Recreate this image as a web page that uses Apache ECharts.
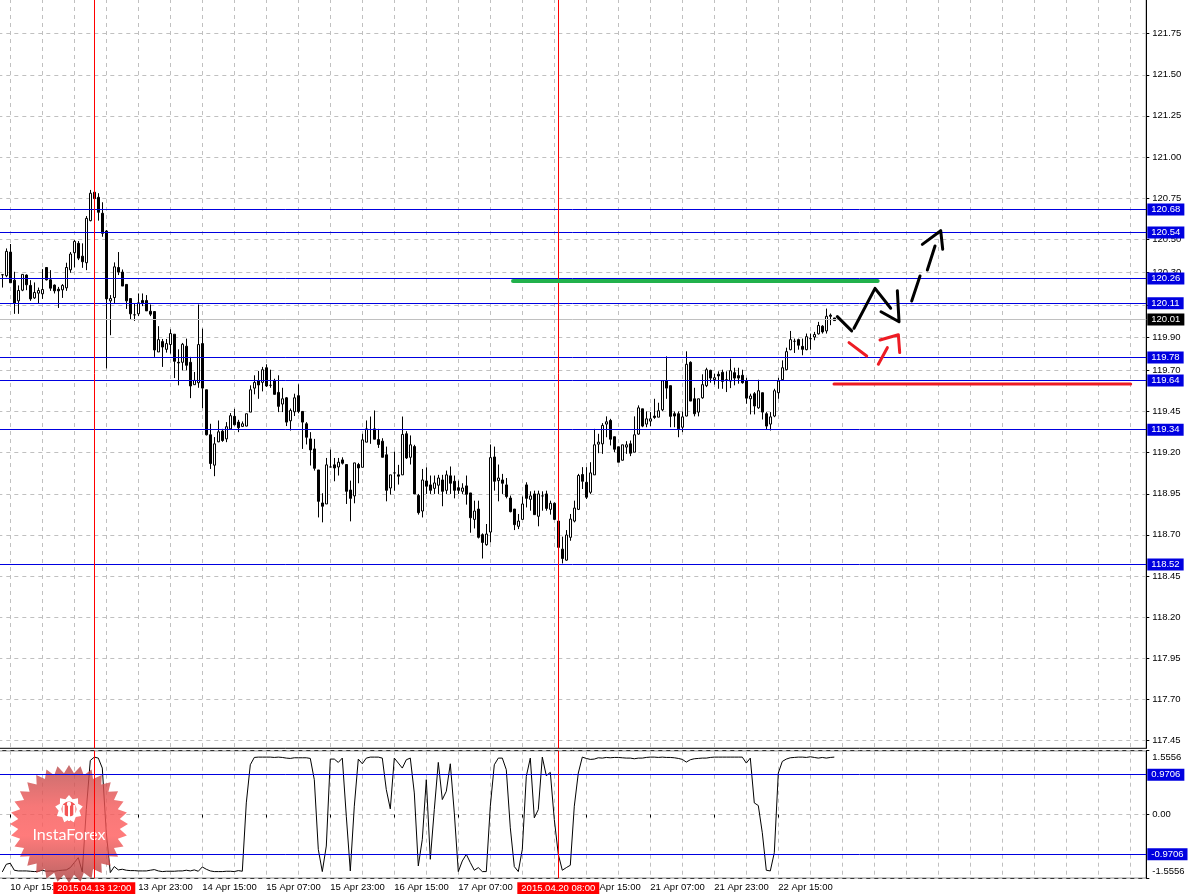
<!DOCTYPE html>
<html>
<head>
<meta charset="utf-8">
<title>USD/JPY H1</title>
<script src="https://cdn.jsdelivr.net/npm/echarts@6/dist/echarts.min.js"></script>
<style>
  html, body { margin: 0; padding: 0; background: #fff; }
  #main { width: 1188px; height: 894px; }
</style>
</head>
<body>
<div id="main"></div>
<script>
// hourly candles
const opens = [
120.283,120.277,120.421,120.250,120.124,120.189,120.281,120.218,120.142,120.171,
120.167,120.327,120.252,120.220,120.195,120.191,120.203,120.313,120.417,120.474,
120.396,120.356,120.612,120.785,120.754,120.657,120.549,120.124,120.144,120.327,
120.299,120.224,120.138,120.039,120.045,120.126,120.126,120.061,120.059,119.813,
119.876,119.829,119.858,119.921,119.750,119.750,119.848,119.750,119.614,119.626,
119.864,119.583,119.309,119.124,119.266,119.331,119.284,119.345,119.421,119.386,
119.360,119.362,119.447,119.593,119.638,119.628,119.717,119.610,119.636,119.567,
119.496,119.534,119.394,119.449,119.547,119.451,119.376,119.284,119.223,119.095,
118.894,118.888,119.113,119.126,119.113,119.156,119.128,118.973,118.937,119.128,
119.111,119.264,119.341,119.345,119.280,119.270,119.187,118.985,119.077,119.065,
119.065,119.315,119.172,119.237,118.939,118.845,119.028,119.004,118.983,119.002,
119.034,118.971,119.059,119.026,118.987,118.965,118.998,118.955,118.794,118.857,
118.701,118.640,118.717,119.174,119.030,119.034,119.004,118.924,118.857,118.752,
118.794,119.004,118.916,118.949,118.813,118.937,118.949,118.855,118.892,118.784,
118.613,118.546,118.685,118.784,118.855,119.067,119.020,118.959,119.065,119.252,
119.254,119.374,119.396,119.297,119.236,119.154,119.234,119.254,119.203,119.313,
119.467,119.374,119.392,119.423,119.416,119.461,119.638,119.608,119.437,119.437,
119.355,119.423,119.750,119.528,119.447,119.534,119.608,119.701,119.644,119.677,
119.689,119.644,119.636,119.687,119.669,119.671,119.636,119.528,119.559,119.473,
119.565,119.437,119.374,119.423,119.565,119.644,119.705,119.827,119.878,119.888,
119.847,119.827,119.894,119.904,119.923,119.970,119.941,120.037,120.020];
const closes = [
120.283,120.425,120.234,120.110,120.187,120.285,120.222,120.136,120.175,120.187,
120.193,120.252,120.201,120.185,120.185,120.218,120.327,120.409,120.486,120.384,
120.362,120.626,120.779,120.746,120.663,120.535,120.136,120.138,120.331,120.299,
120.214,120.124,120.045,120.039,120.112,120.112,120.063,120.043,119.825,119.888,
119.843,119.864,119.925,119.756,119.746,119.860,119.732,119.606,119.640,119.858,
119.593,119.309,119.134,119.254,119.327,119.274,119.358,119.425,119.370,119.352,
119.376,119.437,119.583,119.628,119.612,119.705,119.606,119.610,119.555,119.482,
119.528,119.386,119.457,119.534,119.451,119.386,119.294,119.217,119.105,118.904,
118.874,119.126,119.113,119.107,119.142,119.136,118.965,118.922,119.138,119.107,
119.278,119.345,119.341,119.282,119.250,119.172,118.971,119.065,119.077,119.057,
119.311,119.168,119.248,118.949,118.835,119.034,118.996,118.971,119.016,119.046,
118.965,119.065,119.014,118.971,118.971,118.985,118.947,118.804,118.845,118.685,
118.654,118.705,119.170,119.026,119.046,119.014,118.933,118.841,118.762,118.784,
118.888,118.922,118.937,118.823,118.949,118.937,118.861,118.892,118.794,118.624,
118.556,118.699,118.796,118.863,119.061,119.026,118.929,119.077,119.248,119.264,
119.366,119.388,119.282,119.221,119.142,119.248,119.248,119.197,119.309,119.473,
119.362,119.406,119.406,119.414,119.455,119.638,119.593,119.421,119.423,119.345,
119.418,119.738,119.514,119.437,119.528,119.614,119.705,119.654,119.656,119.667,
119.634,119.644,119.699,119.654,119.654,119.626,119.532,119.545,119.484,119.577,
119.447,119.362,119.418,119.577,119.636,119.717,119.815,119.888,119.878,119.854,
119.829,119.906,119.894,119.919,119.974,119.935,120.030,120.030,120.004];
const lows = [
120.205,120.268,120.234,120.045,120.045,120.183,120.189,120.124,120.136,120.110,
120.136,120.248,120.185,120.169,120.081,120.142,120.185,120.295,120.327,120.372,
120.325,120.311,120.608,120.667,120.612,120.514,119.713,119.915,120.110,120.281,
120.214,120.075,120.012,120.002,120.031,120.092,120.063,120.031,119.783,119.813,
119.722,119.809,119.803,119.654,119.610,119.701,119.701,119.532,119.614,119.595,
119.471,119.305,119.101,119.057,119.264,119.266,119.264,119.339,119.366,119.325,
119.356,119.360,119.447,119.555,119.528,119.573,119.600,119.595,119.555,119.447,
119.447,119.362,119.335,119.423,119.440,119.223,119.250,119.122,119.091,118.806,
118.776,118.888,119.111,119.026,119.061,119.128,118.888,118.782,118.892,119.014,
119.111,119.264,119.254,119.282,119.229,119.172,118.904,118.945,118.969,119.006,
119.065,119.162,119.128,118.949,118.823,118.806,118.949,118.949,118.949,118.949,
118.874,118.949,118.949,118.922,118.949,118.949,118.884,118.713,118.739,118.678,
118.556,118.634,118.654,118.969,118.904,118.949,118.922,118.837,118.729,118.735,
118.794,118.867,118.847,118.823,118.752,118.847,118.847,118.823,118.790,118.624,
118.526,118.542,118.664,118.776,118.851,118.979,118.918,118.949,119.065,119.197,
119.193,119.294,119.244,119.203,119.142,119.152,119.193,119.179,119.203,119.309,
119.355,119.355,119.362,119.406,119.416,119.453,119.528,119.355,119.355,119.294,
119.325,119.421,119.514,119.421,119.421,119.528,119.599,119.626,119.614,119.589,
119.589,119.569,119.593,119.610,119.620,119.620,119.498,119.433,119.433,119.467,
119.402,119.339,119.335,119.416,119.528,119.640,119.701,119.823,119.807,119.827,
119.793,119.823,119.827,119.884,119.919,119.925,119.925,119.976,120.004];
const highs = [
120.285,120.443,120.470,120.301,120.218,120.285,120.285,120.250,120.236,120.205,
120.317,120.327,120.311,120.224,120.209,120.226,120.356,120.421,120.494,120.488,
120.474,120.640,120.799,120.785,120.779,120.724,120.555,120.159,120.358,120.421,
120.315,120.224,120.138,120.108,120.169,120.169,120.159,120.102,120.059,119.970,
119.892,119.892,119.951,119.921,119.829,119.868,119.894,119.783,119.691,120.102,
119.955,119.583,119.376,119.295,119.396,119.345,119.386,119.441,119.467,119.400,
119.390,119.437,119.610,119.671,119.697,119.722,119.738,119.705,119.650,119.671,
119.595,119.539,119.469,119.559,119.616,119.451,119.386,119.325,119.284,119.095,
118.953,119.168,119.219,119.168,119.168,119.172,119.128,119.030,119.138,119.138,
119.315,119.396,119.420,119.457,119.345,119.288,119.237,119.065,119.207,119.126,
119.420,119.331,119.305,119.248,118.949,119.101,119.111,119.061,119.061,119.065,
119.065,119.091,119.116,119.061,119.030,119.014,119.061,118.955,118.908,118.908,
118.709,118.766,119.250,119.237,119.128,119.071,119.046,118.939,118.857,118.827,
118.933,119.020,118.965,118.969,118.969,118.965,118.969,118.908,118.898,118.784,
118.689,118.729,118.827,118.908,119.071,119.112,119.112,119.142,119.345,119.315,
119.380,119.421,119.406,119.297,119.236,119.248,119.270,119.274,119.421,119.488,
119.467,119.451,119.447,119.528,119.504,119.638,119.786,119.608,119.451,119.451,
119.451,119.817,119.756,119.595,119.528,119.677,119.717,119.705,119.681,119.695,
119.705,119.695,119.772,119.717,119.717,119.705,119.656,119.559,119.569,119.644,
119.565,119.447,119.447,119.589,119.656,119.762,119.839,119.941,119.894,119.894,
119.894,119.925,119.925,119.935,119.996,119.976,120.077,120.047,120.020];

// lower pane oscillator
const oscillator = [
-1.400,-1.214,-1.189,-1.359,-1.376,-1.376,-1.376,-1.384,-1.392,-1.384,
-1.359,-1.384,-1.376,-1.384,-1.368,-1.359,-1.351,-1.295,-1.173,-1.052,
-1.400,0.121,1.318,1.399,1.375,1.132,-0.445,-1.416,-1.270,-1.351,
-1.335,-1.359,-1.368,-1.368,-1.376,-1.376,-1.376,-1.359,-1.343,-1.376,
-1.392,-1.384,-1.384,-1.384,-1.376,-1.376,-1.359,-1.376,-1.351,-1.384,
-1.279,-1.335,-1.376,-1.392,-1.392,-1.392,-1.384,-1.384,-1.392,-1.368,
-1.384,0.283,1.213,1.391,1.399,1.399,1.399,1.399,1.391,1.399,
1.391,1.375,1.367,1.383,1.383,1.383,1.383,1.367,0.849,-0.850,
-1.392,-0.769,1.351,1.351,1.270,1.375,-0.041,-1.376,0.202,1.351,
1.237,1.375,1.399,1.399,1.399,1.375,0.606,0.137,1.375,1.254,
1.132,1.335,1.375,0.526,-1.254,-0.607,0.849,-1.092,0.121,1.270,
0.364,0.566,1.237,0.040,-1.392,-1.133,-0.971,-1.173,-1.359,-1.295,
-1.392,-1.392,0.202,1.213,1.375,1.375,1.092,-0.324,-1.270,-1.392,
-0.850,0.930,1.375,-0.081,0.121,1.399,0.946,1.027,-0.122,-0.971,
-1.359,-1.295,-1.238,0.202,1.011,1.399,1.367,1.343,1.351,1.383,
1.375,1.391,1.383,1.391,1.391,1.383,1.375,1.375,1.359,1.375,
1.375,1.391,1.399,1.399,1.391,1.399,1.391,1.391,1.383,1.367,
1.343,1.278,1.335,1.359,1.367,1.375,1.375,1.391,1.399,1.399,
1.399,1.399,1.399,1.399,1.399,1.399,1.254,1.375,0.283,0.218,
-0.445,-1.359,-1.376,-0.931,1.011,1.294,1.351,1.383,1.391,1.399,
1.399,1.391,1.407,1.391,1.375,1.391,1.375,1.391,1.399];

const priceTicks = [117.45,117.70,117.95,118.20,118.45,118.70,118.95,119.20,119.45,119.70,119.90,120.10,120.30,120.50,120.75,121.00,121.25,121.50,121.75];
const priceLevels = [120.68,120.54,120.26,120.11,119.78,119.64,119.34,118.52];
const lastPrice = 120.01;
const oscTicks = [-1.5556,0,1.5556];
const oscLevels = [0.9706,-0.9706];
const markedTimes = ['2015.04.13 12:00','2015.04.20 08:00'];
const markedBars = [23,139];

// hand drawn forecast, [bar, price]
const blackStrokes = [
  [[208.76,120.028],[212.35,119.941]],
  [[212.93,119.957],[218.18,120.200],[222.10,120.079]],
  [[219.68,120.058],[224.18,119.997],[223.76,120.186]],
  [[227.35,120.123],[229.43,120.275]],
  [[231.26,120.312],[233.18,120.458]],
  [[230.01,120.468],[234.60,120.551],[235.10,120.438]]
];
const redStrokes = [
  [[211.68,119.870],[216.10,119.788]],
  [[219.01,119.738],[221.26,119.839]],
  [[219.43,119.886],[224.01,119.918],[224.35,119.809]],
];
const greenZone = [[127.68,120.245],[218.85,120.245]];
const redZone = [[207.93,119.618],[282.10,119.618]];

const BAR_SLOTS = 288; // one empty slot left of the first candle, then room to the axis
const months = ['Jan','Feb','Mar','Apr'];

// MT4 style hourly labels, weekend skipped
function buildTimes() {
  const out = [];
  let t = Date.UTC(2015, 3, 10, 12);
  while (out.length < BAR_SLOTS) {
    const d = new Date(t);
    if (d.getUTCDay() !== 0 && d.getUTCDay() !== 6) {
      out.push(String(d.getUTCDate()).padStart(2, '0') + ' ' + months[d.getUTCMonth()] + ' ' + String(d.getUTCHours()).padStart(2, '0') + ':00');
    }
    t += 3600000;
  }
  return out;
}
const times = buildTimes();
const padded = [['-','-','-','-']].concat(opens.map((o, i) => [o, closes[i], lows[i], highs[i]]));
const oscPadded = ['-'].concat(oscillator);

const FONT = '"Liberation Sans", Arial, sans-serif';
const FSIZE = 9.5;
const BLUE = '#0000e0';
const GRID = '#c0c0c0';

const isGridBar = (k) => (k - 1 - 2) % 8 === 0;
const isLabelBar = (k) => k >= 3 && k <= 195 && (k - 1 - 2) % 16 === 0;

const chart = echarts.init(document.getElementById('main'), null, { renderer: 'canvas' });

function levelLine(v, color, bg, text) {
  return {
    yAxis: v,
    lineStyle: { color: color, width: 1, type: 'solid' },
    label: {
      show: true, position: 'end', distance: 1, formatter: text, color: '#fff',
      backgroundColor: bg, padding: [1, 4, 1, 4], fontSize: FSIZE, fontFamily: FONT, align: 'left', verticalAlign: 'middle'
    }
  };
}

function strokeSeries(points, color, width) {
  return {
    type: 'line', xAxisIndex: 2, yAxisIndex: 2, data: points, symbol: 'none', silent: true, z: 6,
    lineStyle: { color: color, width: width, cap: 'round', join: 'round' }, animation: false
  };
}

// starburst logo points
function starPoints(cx, cy, rOut, rIn, n) {
  const pts = [];
  for (let i = 0; i < n * 2; i++) {
    const r = i % 2 ? rIn : rOut;
    const a = Math.PI * i / n - Math.PI / 2;
    pts.push([cx + r * Math.cos(a), cy + r * Math.sin(a)]);
  }
  return pts;
}

var option = {
  backgroundColor: '#fff',
  animation: false,
  grid: [
    { left: -1.7, top: -1, width: 1148, height: 749.3, outerBoundsMode: 'none', show: true, borderColor: '#000', borderWidth: 1, backgroundColor: 'transparent' },
    { left: -1.7, top: 750.7, width: 1148, height: 127.6, outerBoundsMode: 'none', show: true, borderColor: '#000', borderWidth: 1, backgroundColor: 'transparent' }
  ],
  xAxis: [
    {
      type: 'category', gridIndex: 0, data: times, boundaryGap: false,
      axisLine: { show: false }, axisTick: { show: false }, axisLabel: { show: false },
      splitLine: { show: true, interval: (k) => isGridBar(k), lineStyle: { color: GRID, type: [4, 4] } }
    },
    {
      type: 'category', gridIndex: 1, data: times, boundaryGap: false,
      axisLine: { show: false },
      axisTick: { show: true, interval: (k) => isLabelBar(k), length: 3, lineStyle: { color: '#000' } },
      axisLabel: { show: true, interval: (k) => isLabelBar(k), align: 'left', margin: 4, color: '#000', fontSize: FSIZE, fontFamily: FONT, hideOverlap: false },
      splitLine: { show: true, interval: (k) => isGridBar(k), lineStyle: { color: GRID, type: [4, 4] } }
    },
    { type: 'value', gridIndex: 0, min: -1, max: 286, show: false }
  ],
  yAxis: [
    {
      type: 'value', gridIndex: 0, position: 'right', min: 117.401, max: 121.961, scale: true,
      axisLine: { show: true, onZero: false, lineStyle: { color: '#000' } },
      axisTick: { show: true, length: 3, customValues: priceTicks, lineStyle: { color: '#000' } },
      axisLabel: { show: true, customValues: priceTicks, margin: 6, color: '#000', fontSize: FSIZE, fontFamily: FONT, formatter: (v) => v.toFixed(2) },
      splitLine: { show: true, lineStyle: { color: GRID, type: [4, 4] } }
    },
    {
      type: 'value', gridIndex: 1, position: 'right', min: -1.5556, max: 1.5556,
      axisLine: { show: true, onZero: false, lineStyle: { color: '#000' } },
      axisTick: { show: true, length: 3, customValues: oscTicks, lineStyle: { color: '#000' } },
      axisLabel: {
        show: true, customValues: oscTicks, margin: 6, color: '#000', fontSize: FSIZE, fontFamily: FONT,
        verticalAlignMaxLabel: 'top', verticalAlignMinLabel: 'bottom', padding: [2, 0, 2, 0],
        formatter: (v) => (Math.abs(v) < 1e-6 ? '0.00' : v.toFixed(4))
      },
      splitLine: { show: true, lineStyle: { color: GRID, type: [4, 4] } }
    },
    { type: 'value', gridIndex: 0, min: 117.401, max: 121.961, show: false }
  ],
  series: [
    {
      type: 'candlestick', xAxisIndex: 0, yAxisIndex: 0, data: padded, barWidth: 3, z: 3, silent: true,
      itemStyle: { color: '#fff', color0: '#000', borderColor: '#000', borderColor0: '#000', borderWidth: 1 },
      markLine: {
        symbol: 'none', silent: true, animation: false, precision: 3,
        label: { show: false },
        data: priceLevels.map((v) => levelLine(v, BLUE, BLUE, v.toFixed(2)))
          .concat([levelLine(lastPrice, GRID, '#000', lastPrice.toFixed(2))])
          .concat(markedBars.map((b) => ({ xAxis: times[b + 1], label: { show: false }, lineStyle: { color: '#ff0000', width: 1, type: 'solid' } })))
      }
    },
    {
      type: 'line', xAxisIndex: 1, yAxisIndex: 1, data: oscPadded, symbol: 'none', z: 3, silent: true,
      lineStyle: { color: '#000', width: 1 },
      markLine: {
        symbol: 'none', silent: true, animation: false, precision: 4,
        label: { show: false },
        data: oscLevels.map((v) => levelLine(v, BLUE, BLUE, v.toFixed(4)))
          .concat(markedBars.map((b, i) => ({
            xAxis: times[b + 1],
            lineStyle: { color: '#ff0000', width: 1, type: 'solid' },
            label: { show: true, position: 'start', distance: 4, formatter: markedTimes[i], color: '#fff', backgroundColor: '#ff0000', padding: [1, 4, 1, 4], fontSize: FSIZE, fontFamily: FONT }
          })))
      }
    },
    strokeSeries(greenZone, '#22b14c', 4),
    strokeSeries(redZone, '#ed1c24', 3)
  ].concat(blackStrokes.map((s) => strokeSeries(s, '#000', 3)))
   .concat(redStrokes.map((s) => strokeSeries(s, '#ed1c24', 3))),
  graphic: {
    elements: [
      {
        type: 'group', left: 10, top: 765, silent: true,
        children: [
          {
            type: 'polygon', z: 4, shape: { points: starPoints(60, 60, 59, 51, 32) },
            style: {
              opacity: 0.8,
              fill: new echarts.graphic.LinearGradient(0, 0, 0, 1, [
                { offset: 0, color: '#b94a4a' }, { offset: 0.35, color: '#f45656' },
                { offset: 0.6, color: '#ff5a5a' }, { offset: 1, color: '#a83c3c' }
              ])
            }
          },
          { type: 'polygon', z: 5, shape: { points: starPoints(60, 45, 14, 10.5, 9) }, style: { fill: '#fff' } },
          { type: 'circle', z: 5, shape: { cx: 60, cy: 45, r: 7.5 }, style: { fill: '#f25555' } },
          { type: 'rect', z: 5, shape: { x: 59, y: 42, width: 2, height: 15 }, style: { fill: '#fff' } },
          { type: 'circle', z: 5, shape: { cx: 60, cy: 40, r: 2.2 }, style: { fill: '#fff' } },
          { type: 'rect', z: 5, shape: { x: 53.5, y: 41, width: 2.2, height: 12 }, style: { fill: '#fff' } },
          { type: 'rect', z: 5, shape: { x: 64.3, y: 41, width: 2.2, height: 12 }, style: { fill: '#fff' } },
          {
            type: 'text', z: 5, style: {
              x: 60, y: 71, text: 'InstaForex', fill: '#fff', fontSize: 16, fontFamily: 'Lato, "Open Sans", sans-serif',
              align: 'center', verticalAlign: 'middle'
            }
          }
        ]
      }
    ]
  }
};
chart.setOption(option);
</script>
</body>
</html>
